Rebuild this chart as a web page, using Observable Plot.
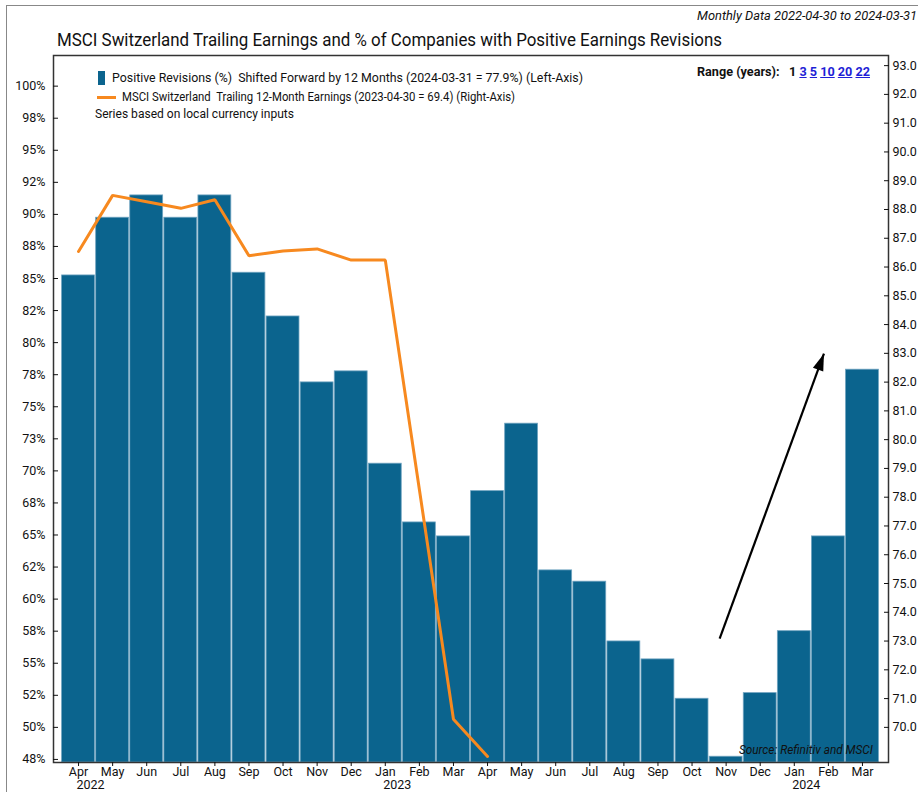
<!DOCTYPE html>
<html><head><meta charset="utf-8">
<script src="https://cdn.jsdelivr.net/npm/d3@7"></script>
<script src="https://cdn.jsdelivr.net/npm/@observablehq/plot@0.6"></script>
<style>
body{margin:0;background:#fff;}
#wrap{position:relative;width:918px;height:792px;overflow:hidden;font-family:Roboto,"Liberation Sans",sans-serif;color:#111;}
#chart{position:absolute;left:0;top:0;}
.abs{position:absolute;white-space:nowrap;line-height:1;transform-origin:left center;}
#border{position:absolute;left:6px;top:5px;width:940px;height:800px;border-left:1.5px solid #888;border-top:1.5px solid #888;}
#sub{right:1px;top:10px;font-size:12.5px;font-style:italic;transform-origin:right center;}
#title{left:57px;top:31px;font-size:18px;}
.leg{font-size:12.5px;}
#sq{left:98px;top:71px;width:7px;height:14px;background:#0b648e;}
#ol{left:97px;top:96px;width:19px;height:3px;background:#f7891f;}
#l1{left:112px;top:72px;}
#l2{left:122px;top:91px;}
#l3{left:95px;top:108px;}
#range{left:697px;top:66px;font-size:12.5px;font-weight:bold;}
#range a{color:#1f1fd6;text-decoration:underline;}
#src{right:45px;top:744px;font-size:12.5px;font-style:italic;transform-origin:right center;}
</style></head><body>
<div id="wrap">
  <div id="border"></div>
  <div id="chart"></div>
  <div class="abs" id="sub" data-w="220">Monthly Data 2022-04-30 to 2024-03-31</div>
  <div class="abs" id="title" data-w="665">MSCI Switzerland Trailing Earnings and % of Companies with Positive Earnings Revisions</div>
  <div class="abs" id="sq"></div>
  <div class="abs leg" id="l1" data-w="471">Positive Revisions (%)&nbsp; Shifted Forward by 12 Months (2024-03-31 = 77.9%) (Left-Axis)</div>
  <div class="abs" id="ol"></div>
  <div class="abs leg" id="l2" data-w="393">MSCI Switzerland&nbsp; Trailing 12-Month Earnings (2023-04-30 = 69.4) (Right-Axis)</div>
  <div class="abs leg" id="l3" data-w="199">Series based on local currency inputs</div>
  <div class="abs" id="range" data-w="173">Range (years):&nbsp;&nbsp; 1 <a>3</a> <a>5</a> <a>10</a> <a>20</a> <a>22</a></div>
  <div class="abs" id="src" data-w="134">Source: Refinitiv and MSCI</div>
</div>
<script>
// ---- data ----
const months = ["Apr","May","Jun","Jul","Aug","Sep","Oct","Nov","Dec","Jan","Feb","Mar",
                "Apr","May","Jun","Jul","Aug","Sep","Oct","Nov","Dec","Jan","Feb","Mar"];
const yearIndex = [0, 9, 21];
const yearLabels = ["2022", "2023", "2024"];
// Positive revisions (%), shifted forward 12 months (left axis)
const revisions = [85.24, 89.74, 91.48, 89.74, 91.48, 85.45, 82.04, 76.90, 77.76, 70.56, 65.98, 64.89,
                   68.42, 73.68, 62.24, 61.36, 56.70, 55.30, 52.23, 47.71, 52.67, 57.50, 64.89, 77.89];
// MSCI Switzerland trailing 12-month earnings (right axis), Apr 2022 .. Apr 2023
const earnings = [86.54, 88.49, 88.27, 88.04, 88.34, 86.39, 86.56, 86.63, 86.24, 86.24, 78.27, 70.28, 68.99];
const leftTicks = [47.5, 50, 52.5, 55, 57.5, 60, 62.5, 65, 67.5, 70, 72.5, 75, 77.5, 80, 82.5, 85, 87.5, 90, 92.5, 95, 97.5, 100];
const leftTickLabels = ["48%","50%","52%","55%","58%","60%","62%","65%","68%","70%","73%","75%","78%","80%","82%","85%","88%","90%","92%","95%","98%","100%"];
const rightTicks = [70,71,72,73,74,75,76,77,78,79,80,81,82,83,84,85,86,87,88,89,90,91,92,93];
const leftDomain = [47.26, 102.39];
const rightToLeftDomain = [70, 93];
const rightToLeftRange = [50, 101.6];
// annotation arrow (month index, left-axis value)
const arrowX = [18.81, 21.87];
const arrowY = [56.91, 79.14];

// ---- fit HTML texts to the reference widths ----
document.querySelectorAll("[data-w]").forEach(el => {
  const w = el.getBoundingClientRect().width;
  if (w > 0) el.style.transform = `scaleX(${(+el.dataset.w / w).toFixed(4)})`;
});

// ---- chart ----
const BLUE = "#0b648e", ORANGE = "#f7891f";
const FONT = 'Roboto,"Liberation Sans",sans-serif';
const toLeft = d3.scaleLinear(rightToLeftDomain, rightToLeftRange);
const leftLabel = new Map(leftTicks.map((v, i) => [v, leftTickLabels[i]]));
const rightTicksL = rightTicks.map(v => toLeft(v));
const barData = revisions.map((v, i) => ({i, v}));
const lineData = earnings.map((v, i) => ({i, v: toLeft(v)}));
const arrowData = [{x1: arrowX[0], y1: arrowY[0], x2: arrowX[1], y2: arrowY[1]}];
const headAngle = Math.atan2(
  (arrowX[1] - arrowX[0]) * (818 / 24),
  (arrowY[1] - arrowY[0]) * (707 / (leftDomain[1] - leftDomain[0]))
) * 180 / Math.PI;
const arrowHead = {draw(ctx) { ctx.moveTo(0, 0); ctx.lineTo(-5.5, 17); ctx.lineTo(5.5, 17); ctx.closePath(); }};

const chart = Plot.plot({
  width: 918, height: 792,
  marginTop: 55, marginBottom: 30, marginLeft: 53, marginRight: 30,
  style: {fontFamily: FONT, fontSize: "12.5px", color: "#111", background: "transparent"},
  x: {type: "linear", domain: [-0.5, 23.5], insetLeft: 8, insetRight: 9},
  y: {domain: leftDomain},
  marks: [
    Plot.rectY(barData, {x1: d => d.i - 0.5, x2: d => d.i + 0.5, y1: () => leftDomain[0], y2: "v",
      fill: BLUE, stroke: "#6fa3c0", strokeWidth: 0.8, insetLeft: 0.6, insetRight: 0.6}),
    Plot.line(lineData, {x: "i", y: "v", stroke: ORANGE, strokeWidth: 3, strokeLinejoin: "miter"}),
    Plot.link(arrowData, {x1: "x1", y1: "y1", x2: "x2", y2: "y2", stroke: "#000", strokeWidth: 2.2}),
    Plot.dot(arrowData, {x: "x2", y: "y2", symbol: arrowHead, fill: "#000", stroke: "none", r: 5, rotate: headAngle}),
    Plot.frame({stroke: "#333", strokeWidth: 1.5}),
    Plot.axisY(leftTicks, {anchor: "left", tickSize: 5, insetLeft: 5, tickPadding: 8, tickFormat: d => leftLabel.get(d), label: null, fontSize: 12.5}),
    Plot.axisY(rightTicksL, {anchor: "right", tickSize: 5, insetRight: 5, tickPadding: 4, tickFormat: d => toLeft.invert(d).toFixed(1), label: null, fontSize: 12.5}),
    Plot.axisX(d3.range(24), {anchor: "bottom", tickSize: 4, tickPadding: 1, tickFormat: i => months[i], label: null, fontSize: 12.5}),
    Plot.text(yearIndex, {x: d => d, text: (d, i) => yearLabels[i], frameAnchor: "bottom", lineAnchor: "top", dy: 18, dx: 12, fontSize: 12.5})
  ]
});
document.getElementById("chart").append(chart);
</script>
</body></html>
